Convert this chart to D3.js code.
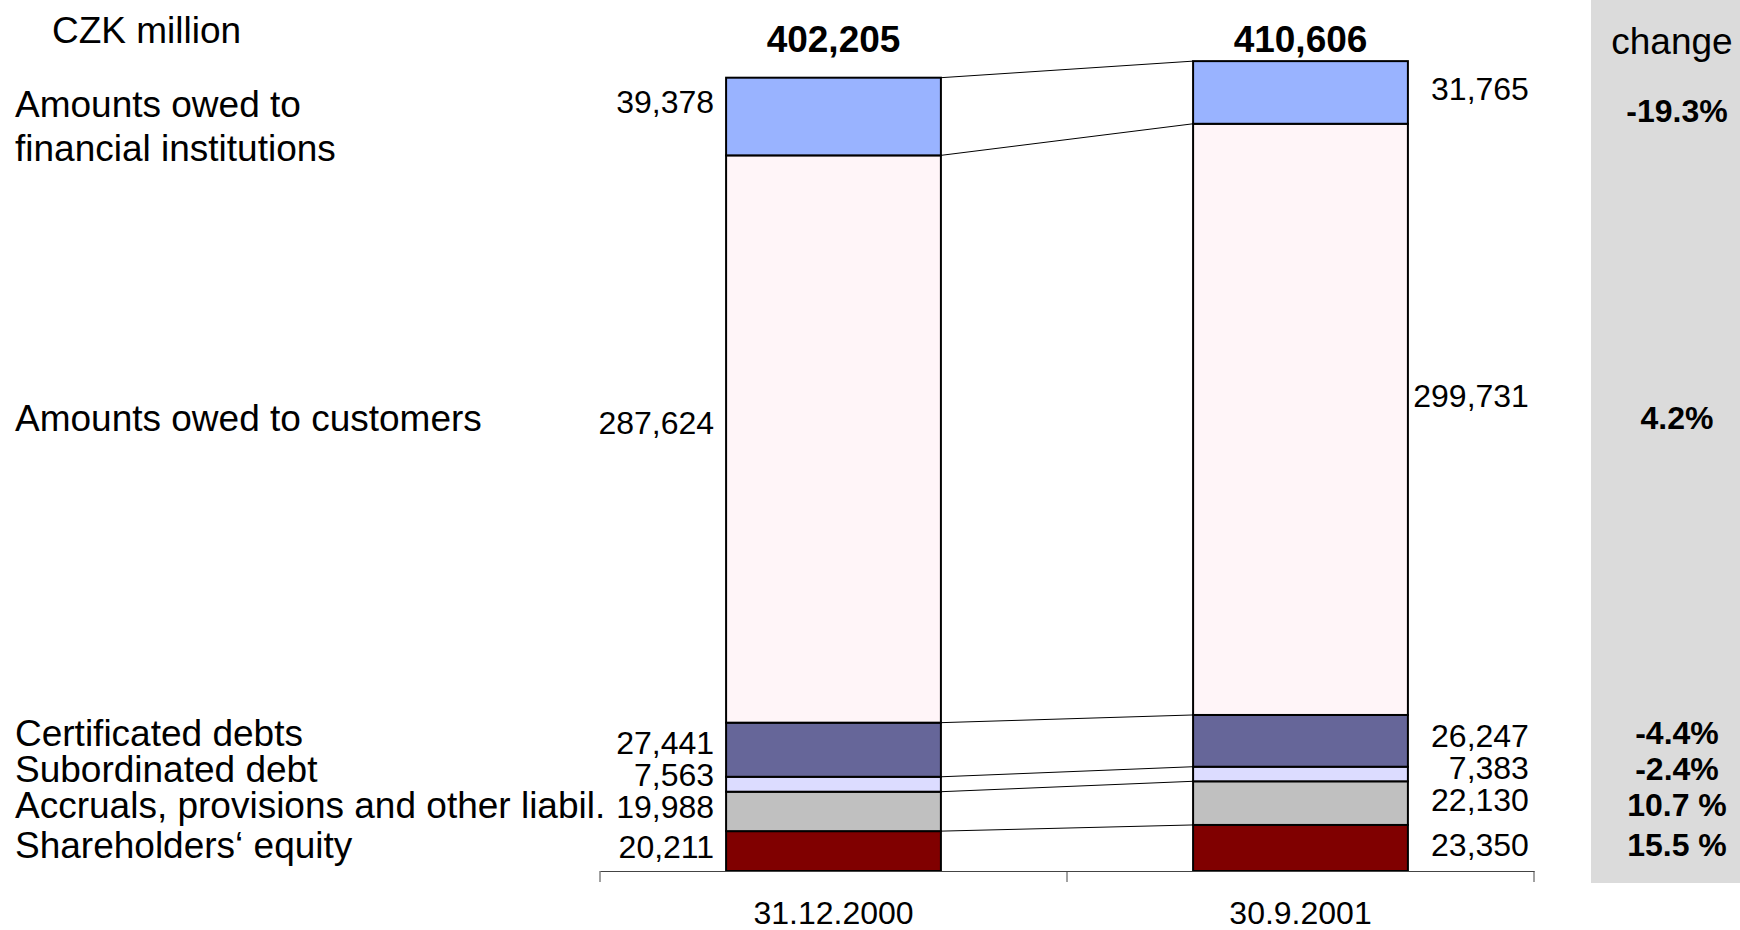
<!DOCTYPE html>
<html>
<head>
<meta charset="utf-8">
<script src="https://cdn.jsdelivr.net/npm/d3@7"></script>
<style>
  body { margin: 0; background: #fff; }
  text { font-family: "Liberation Sans", Arial, sans-serif; fill: #000; }
</style>
</head>
<body>
<script>
// data, top of stack first
var dates = ["31.12.2000", "30.9.2001"];
var categories = ["Amounts owed to financial institutions", "Amounts owed to customers", "Certificated debts",
                  "Subordinated debt", "Accruals, provisions and other liabil.", "Shareholders\u2018 equity"];
var labelLines = [["Amounts owed to", "financial institutions"], ["Amounts owed to customers"], ["Certificated debts"],
                  ["Subordinated debt"], ["Accruals, provisions and other liabil."], ["Shareholders\u2018 equity"]];
var values2000 = [39378, 287624, 27441, 7563, 19988, 20211];
var values2001 = [31765, 299731, 26247, 7383, 22130, 23350];
var totals = [402205, 410606];
var changes = ["-19.3%", "4.2%", "-4.4%", "-2.4%", "10.7 %", "15.5 %"];
var colors = ["#99b3ff", "#fff5f8", "#666699", "#dcdcff", "#c0c0c0", "#800000"];

var W = 1740, H = 930;
var svg = d3.select("body").append("svg").attr("width", W).attr("height", H);

// scales
var x = d3.scaleBand().domain(dates).range([600, 1534]);
var barW = x.bandwidth() * 0.46;
var y = d3.scaleLinear().domain([0, 420000]).range([871, 42.6]);

// stacked rows, bottom first
var rows = dates.map(function(d, i) {
  var r = { date: d };
  var vals = i === 0 ? values2000 : values2001;
  categories.forEach(function(c, j) { r[c] = vals[j]; });
  return r;
});
var stack = d3.stack().keys(categories.slice().reverse())(rows);

// grey "change" panel
svg.append("rect").attr("x", 1591).attr("y", 0).attr("width", 149).attr("height", 883).attr("fill", "#dbdbdb");

// segment of category j in column i
function seg(j, i) {
  var s = stack[categories.length - 1 - j][i];
  return { y0: s[0], y1: s[1] };
}
function centers(i) {
  return categories.map(function(c, j) { var s = seg(j, i); return (y(s.y0) + y(s.y1)) / 2; });
}
// push labels apart from the bottom up
function dodge(cs, gap, off) {
  var out = cs.slice();
  for (var j = out.length - 2; j >= 0; j--) {
    if (out[j] > out[j + 1] - gap) out[j] = out[j + 1] - gap;
  }
  return out.map(function(v) { return v - off; });
}

// connecting lines between the bars
var bounds = [];
for (var j = 0; j < categories.length; j++) {
  bounds.push([seg(j, 0).y1, seg(j, 1).y1]);
}
svg.append("g").selectAll("line").data(bounds).join("line")
  .attr("x1", x(dates[0]) + x.bandwidth() / 2 + barW / 2)
  .attr("x2", x(dates[1]) + x.bandwidth() / 2 - barW / 2)
  .attr("y1", function(d) { return y(d[0]); })
  .attr("y2", function(d) { return y(d[1]); })
  .attr("stroke", "#000").attr("stroke-width", 1);

// bars
stack.forEach(function(layer, li) {
  var j = categories.length - 1 - li;
  svg.append("g").selectAll("rect").data(layer).join("rect")
    .attr("x", function(d) { return x(d.data.date) + x.bandwidth() / 2 - barW / 2; })
    .attr("width", barW)
    .attr("y", function(d) { return y(d[1]); })
    .attr("height", function(d) { return y(d[0]) - y(d[1]); })
    .attr("fill", colors[j])
    .attr("stroke", "#000").attr("stroke-width", 2);
});

// x axis
var axis = svg.append("g").attr("transform", "translate(0,871)")
  .call(d3.axisBottom(x).tickSize(0).tickPadding(30));
axis.select(".domain").attr("stroke", "#444").attr("stroke-width", 1);
axis.selectAll("text").style("font-size", "32px").style("font-family", "'Liberation Sans', Arial, sans-serif");
var tickXs = [x(dates[0]), x(dates[1]), x(dates[1]) + x.bandwidth()];
svg.append("g").selectAll("line").data(tickXs).join("line")
  .attr("x1", function(d) { return d; }).attr("x2", function(d) { return d; })
  .attr("y1", 871).attr("y2", 882).attr("stroke", "#444");

// value labels
var c0 = dodge(centers(0), 32, 4);
var c1 = dodge(centers(1), 32, 3);
c0[0] -= 11; c0[1] -= 12; c1[1] -= 20;
svg.append("g").selectAll("text").data(values2000).join("text")
  .attr("x", x(dates[0]) + x.bandwidth() / 2 - barW / 2 - 12)
  .attr("y", function(d, j) { return c0[j]; })
  .attr("text-anchor", "end").attr("dominant-baseline", "central")
  .style("font-size", "32px")
  .text(function(d) { return d3.format(",")(d); });
svg.append("g").selectAll("text").data(values2001).join("text")
  .attr("x", x(dates[1]) + x.bandwidth() / 2 + barW / 2 + 121)
  .attr("y", function(d, j) { return c1[j]; })
  .attr("text-anchor", "end").attr("dominant-baseline", "central")
  .style("font-size", "32px")
  .text(function(d) { return d3.format(",")(d); });

// totals
svg.append("g").selectAll("text").data(totals).join("text")
  .attr("x", function(d, i) { return x(dates[i]) + x.bandwidth() / 2; })
  .attr("y", 39)
  .attr("text-anchor", "middle").attr("dominant-baseline", "central")
  .style("font-size", "37px").style("font-weight", "bold")
  .text(function(d) { return d3.format(",")(d); });

// category labels and changes
var cl = dodge(centers(0), 36, 6);
cl[1] -= 15;
var lab = svg.append("g").selectAll("text").data(labelLines).join("text")
  .attr("x", 15)
  .attr("y", function(d, j) { return cl[j] - (d.length - 1) * 22 + (j === 0 ? 15 : 0); })
  .attr("dominant-baseline", "central")
  .style("font-size", "37px");
lab.selectAll("tspan").data(function(d) { return d; }).join("tspan")
  .attr("x", 15).attr("dy", function(d, k) { return k === 0 ? 0 : 44; })
  .text(function(d) { return d; });

svg.append("g").selectAll("text").data(changes).join("text")
  .attr("x", 1677)
  .attr("y", function(d, j) { return cl[j]; })
  .attr("text-anchor", "middle").attr("dominant-baseline", "central")
  .style("font-size", "32px").style("font-weight", "bold")
  .text(function(d) { return d; });

svg.append("text").attr("x", 52).attr("y", 30).attr("dominant-baseline", "central")
  .style("font-size", "37px").text("CZK million");
svg.append("text").attr("x", 1672).attr("y", 41).attr("text-anchor", "middle").attr("dominant-baseline", "central")
  .style("font-size", "37px").text("change");
</script>
</body>
</html>
